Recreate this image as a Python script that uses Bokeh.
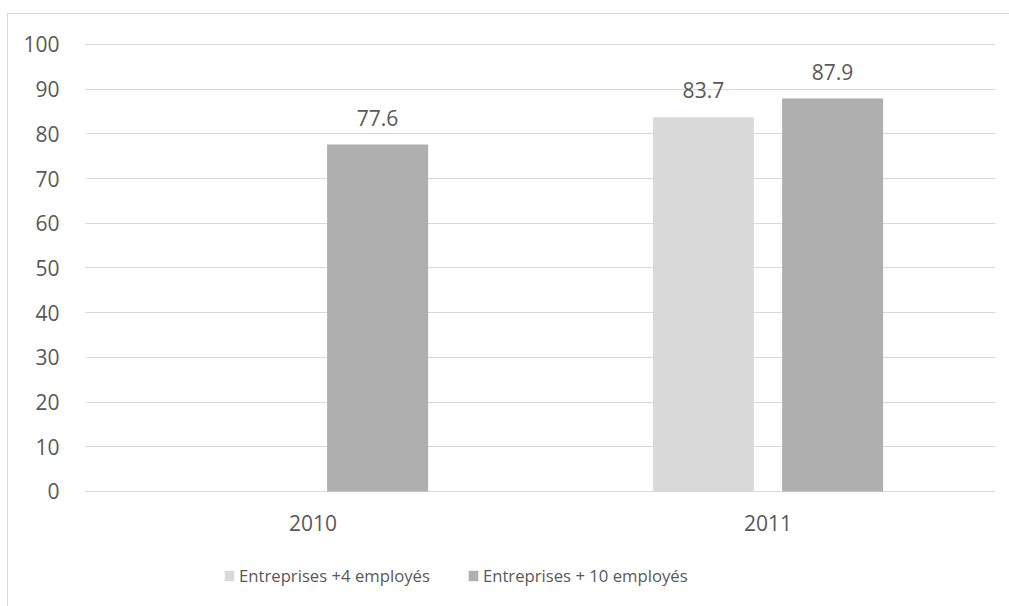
import math
from bokeh.plotting import figure
from bokeh.models import ColumnDataSource, FactorRange, Range1d, Legend, LegendItem, FixedTicker
from bokeh.transform import dodge
from bokeh.core.properties import value
from bokeh.embed import file_html
from bokeh.resources import INLINE

years = ["2010", "2011"]
series_names = ["Entreprises +4 employés", "Entreprises + 10 employés"]
small_firms = [float("nan"), 83.7]
large_firms = [77.6, 87.9]
y_ticks = [0, 10, 20, 30, 40, 50, 60, 70, 80, 90, 100]

def fmt(v):
    return "" if math.isnan(v) else f"{v:.1f}"

source = ColumnDataSource(dict(
    year=years,
    s1=small_firms,
    s2=large_firms,
    l1=[fmt(v) for v in small_firms],
    l2=[fmt(v) for v in large_firms],
))

FONT = "Open Sans"
TXT = "#595959"
GRID = "#d9d9d9"
C1 = "#d9d9d9"
C2 = "#afafaf"

p = figure(width=1001, height=592, x_range=FactorRange(*years, range_padding=0),
           y_range=Range1d(-24.61, 100.22), output_backend="svg", toolbar_location=None,
           min_border_left=77, min_border_right=14, min_border_top=29, min_border_bottom=5,
           margin=(14, 0, 0, 8))
p.styles = {"outline": "1.5px solid #d9d9d9"}
p.outline_line_color = None
p.background_fill_color = "white"
p.border_fill_color = "white"

off = 0.142
w = 0.222
r1 = p.vbar(x=dodge("year", -off, range=p.x_range), top="s1", width=w, source=source,
            fill_color=C1, line_color=None)
r2 = p.vbar(x=dodge("year", off, range=p.x_range), top="s2", width=w, source=source,
            fill_color=C2, line_color=None)

for col, lab, o in (("s1", "l1", -off), ("s2", "l2", off)):
    p.text(x=dodge("year", o, range=p.x_range), y=col, text=lab, source=source,
           text_align="center", text_baseline="bottom", y_offset=-19,
           text_font=value(FONT), text_font_size="21px", text_color=TXT)

p.xgrid.grid_line_color = None
p.ygrid.grid_line_color = GRID
p.ygrid.grid_line_width = 1
p.yaxis.ticker = FixedTicker(ticks=y_ticks)

for ax in (p.xaxis, p.yaxis):
    ax.axis_line_color = None
    ax.major_tick_line_color = None
    ax.minor_tick_line_color = None
    ax.major_label_text_font = FONT
    ax.major_label_text_font_size = "21px"
    ax.major_label_text_color = TXT
p.xaxis.fixed_location = 0
p.xaxis.major_label_standoff = 18
p.yaxis.major_label_standoff = 20

legend = Legend(items=[LegendItem(label=series_names[0], renderers=[r1]),
                       LegendItem(label=series_names[1], renderers=[r2])],
                orientation="horizontal", location=(138, 14),
                glyph_width=12, glyph_height=13, label_standoff=4, spacing=37,
                padding=0, margin=0, border_line_color=None, background_fill_alpha=0,
                label_text_font=FONT, label_text_font_size="16.7px", label_text_color=TXT)
p.add_layout(legend, "center")

open("out.html", "w").write(file_html(p, INLINE))
